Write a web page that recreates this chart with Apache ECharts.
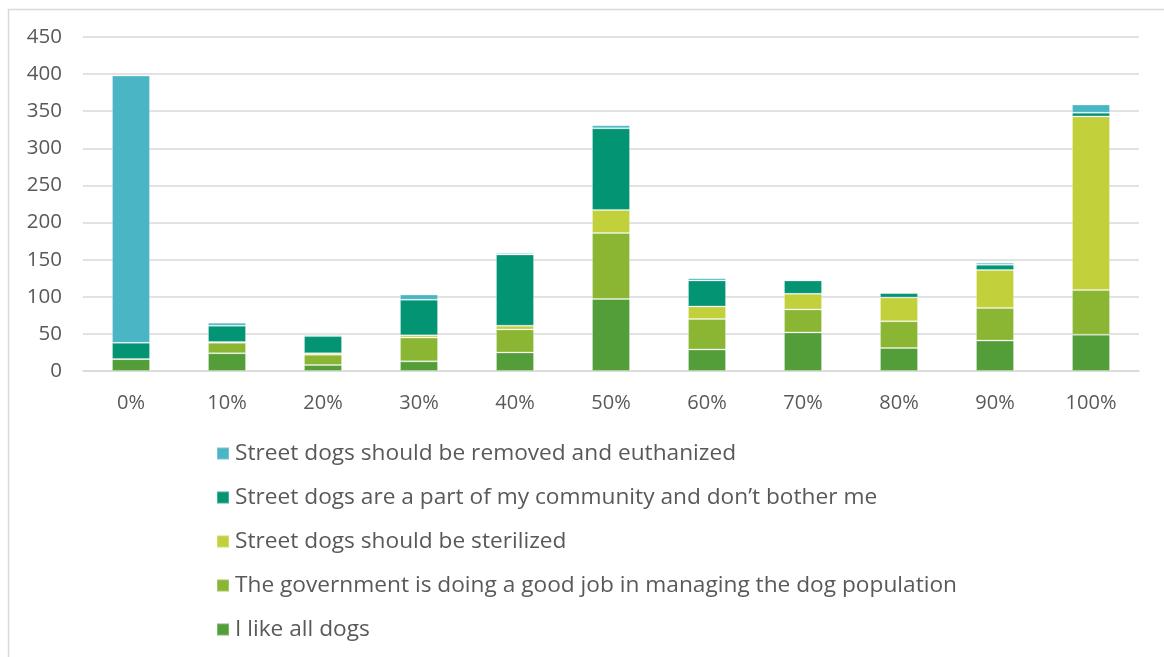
<!DOCTYPE html>
<html>
<head>
<meta charset="utf-8">
<script src="https://cdn.jsdelivr.net/npm/echarts@6/dist/echarts.min.js"></script>
<style>
  html, body { margin: 0; padding: 0; background: #ffffff; }
  #chart { width: 1164px; height: 657px; }
</style>
</head>
<body>
<div id="chart"></div>
<script>
// Share of respondents' agreement, grouped by score bucket
const categories = ['0%', '10%', '20%', '30%', '40%', '50%', '60%', '70%', '80%', '90%', '100%'];

const likeAllDogs      = [16, 24,  8, 13, 25,  97, 29, 52, 31, 41,  49];
const governmentGood   = [ 0, 14, 14, 32, 31,  89, 41, 31, 36, 44,  60];
const shouldSterilize  = [ 0,  1,  2,  3,  5,  31, 17, 21, 32, 51, 234];
const partOfCommunity  = [22, 22, 23, 48, 96, 110, 35, 18,  6,  7,   5];
const removeEuthanize  = [360, 4,  2,  7,  2,   4,  3,  0,  0,  3,  11];

const seriesNames = [
  'I like all dogs',
  'The government is doing a good job in managing the dog population',
  'Street dogs should be sterilized',
  'Street dogs are a part of my community and don\u2019t bother me',
  'Street dogs should be removed and euthanized'
];
const seriesData = [likeAllDogs, governmentGood, shouldSterilize, partOfCommunity, removeEuthanize];
const seriesColors = ['#549E39', '#8AB633', '#C2D03B', '#039474', '#4AB5C4'];

const FONT = '"Open Sans", "Noto Sans", sans-serif';
const TEXT = '#595959';

const chart = echarts.init(document.getElementById('chart'), null, { renderer: 'canvas' });

chart.setOption({
  animation: false,
  backgroundColor: '#ffffff',
  graphic: [{
    type: 'rect',
    left: 6, top: 7,
    shape: { width: 1200, height: 700 },
    style: { fill: 'none', stroke: '#d9d9d9', lineWidth: 1.5 },
    silent: true
  }],
  grid: { left: 83, right: 25, top: 37, height: 334, containLabel: false },
  legend: {
    orient: 'vertical',
    left: 211,
    top: 435,
    itemWidth: 12,
    itemHeight: 12,
    itemGap: 17,
    icon: 'rect',
    data: seriesNames.slice().reverse(),
    textStyle: { fontFamily: FONT, fontSize: 22.7, color: TEXT, lineHeight: 27, padding: [0, 0, 0, 1] }
  },
  xAxis: {
    type: 'category',
    data: categories,
    axisLine: { show: true, lineStyle: { color: '#d9d9d9', width: 1.5 } },
    axisTick: { show: false },
    axisLabel: { fontFamily: FONT, fontSize: 20, color: TEXT, margin: 22 }
  },
  yAxis: {
    type: 'value',
    min: 0, max: 450, interval: 50,
    axisLine: { show: false },
    axisTick: { show: false },
    splitLine: { lineStyle: { color: '#d9d9d9', width: 1.5 } },
    axisLabel: { fontFamily: FONT, fontSize: 20.5, color: TEXT, margin: 21 }
  },
  series: seriesNames.map((name, i) => ({
    name,
    type: 'bar',
    stack: 'total',
    barWidth: 38,
    data: seriesData[i],
    itemStyle: { color: seriesColors[i], borderColor: 'rgba(255,255,255,0.25)', borderWidth: 1 }
  }))
});
</script>
</body>
</html>
